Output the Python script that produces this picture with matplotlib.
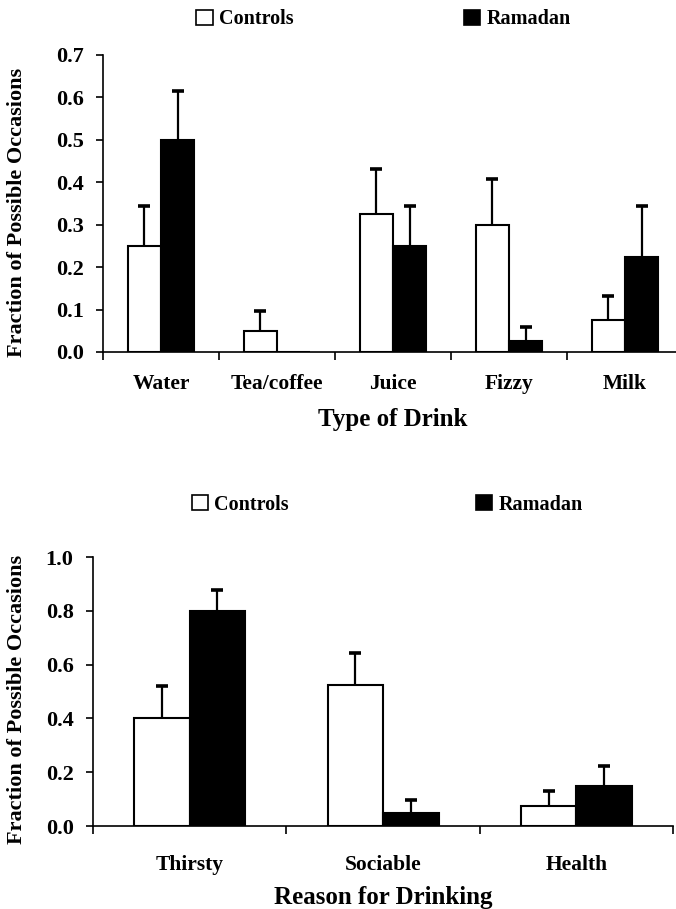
import matplotlib
matplotlib.use('Agg')
import matplotlib.pyplot as plt
from matplotlib.patches import Patch
import numpy as np

plt.rcParams['font.family'] = 'Liberation Serif'
plt.rcParams['font.weight'] = 'bold'

drinks = ['Water', 'Tea/coffee', 'Juice', 'Fizzy', 'Milk']
drink_controls = [0.25, 0.05, 0.325, 0.30, 0.075]
drink_controls_err = [0.095, 0.047, 0.107, 0.107, 0.058]
drink_ramadan = [0.50, 0.0, 0.25, 0.025, 0.225]
drink_ramadan_err = [0.115, 0.0, 0.095, 0.035, 0.12]

reasons = ['Thirsty', 'Sociable', 'Health']
reason_controls = [0.40, 0.525, 0.075]
reason_controls_err = [0.12, 0.12, 0.057]
reason_ramadan = [0.80, 0.05, 0.15]
reason_ramadan_err = [0.077, 0.047, 0.072]

fig = plt.figure(figsize=(6.76, 9.09), dpi=100)
ax1 = fig.add_axes([0.1524, 0.6128, 0.858, 0.3267])
ax2 = fig.add_axes([0.1376, 0.0913, 0.858, 0.2959])


def upper_err(ax, x, y, e):
    # only the upper half of the error bar, with a cap on top
    x, y, e = np.asarray(x), np.asarray(y), np.asarray(e)
    m = e > 0
    ax.vlines(x[m], y[m], y[m] + e[m], color='black', linewidth=1.6, zorder=3)
    ax.plot(x[m], y[m] + e[m], linestyle='none', marker='_', markersize=9,
            markeredgewidth=2.6, color='black', zorder=3)


def draw(ax, cats, c, ce, r, re, ymax, yticks, xlabel, xtpad, xlpad, ylx, leg_xy, colsp):
    x = np.arange(len(cats))
    w = 0.287
    ax.bar(x - w / 2, c, w, color='white', edgecolor='black', linewidth=1.5)
    ax.bar(x + w / 2, r, w, color='black', edgecolor='black', linewidth=1.5)
    upper_err(ax, x - w / 2, c, ce)
    upper_err(ax, x + w / 2, r, re)
    ax.set_xlim(-0.5, len(cats) - 0.5)
    ax.set_ylim(0, ymax)
    ax.set_yticks(yticks)
    ax.set_yticklabels(['%.1f' % v for v in yticks], fontsize=16, fontweight='bold')
    ax.set_xticks(x)
    ax.set_xticklabels(cats, fontsize=15.5, fontweight='bold')
    ax.set_xticks(np.arange(len(cats) + 1) - 0.5, minor=True)
    ax.tick_params(axis='x', which='major', length=0, pad=xtpad)
    ax.tick_params(axis='x', which='minor', length=6, width=1.2, direction='out')
    ax.tick_params(axis='y', length=5, width=1.2, direction='out', pad=9)
    for s in ['top', 'right']:
        ax.spines[s].set_visible(False)
    for s in ['left', 'bottom']:
        ax.spines[s].set_linewidth(1.2)
    ax.set_xlabel(xlabel, fontsize=18, fontweight='bold', labelpad=xlpad)
    ax.set_ylabel('Fraction of Possible Occasions', fontsize=16, fontweight='bold')
    ax.yaxis.set_label_coords(ylx, 0.47)
    handles = [Patch(facecolor='white', edgecolor='black', linewidth=1.2, label='Controls'),
               Patch(facecolor='black', edgecolor='black', linewidth=1.2, label='Ramadan')]
    ax.legend(handles=handles, ncol=2, frameon=False, loc='center left',
              bbox_to_anchor=leg_xy, borderaxespad=0, borderpad=0,
              prop={'size': 14.5, 'weight': 'bold'}, handlelength=0.8, handleheight=0.8,
              handletextpad=0.3, columnspacing=colsp)


draw(ax1, drinks, drink_controls, drink_controls_err, drink_ramadan, drink_ramadan_err,
     0.7, np.arange(0, 0.71, 0.1), 'Type of Drink', 16, 10, -0.131, (0.161, 1.12), 8.5)
draw(ax2, reasons, reason_controls, reason_controls_err, reason_ramadan, reason_ramadan_err,
     1.0, np.arange(0, 1.01, 0.2), 'Reason for Drinking', 21, 8, -0.114, (0.171, 1.195), 9.3)

fig.savefig('out.png', dpi=100)
